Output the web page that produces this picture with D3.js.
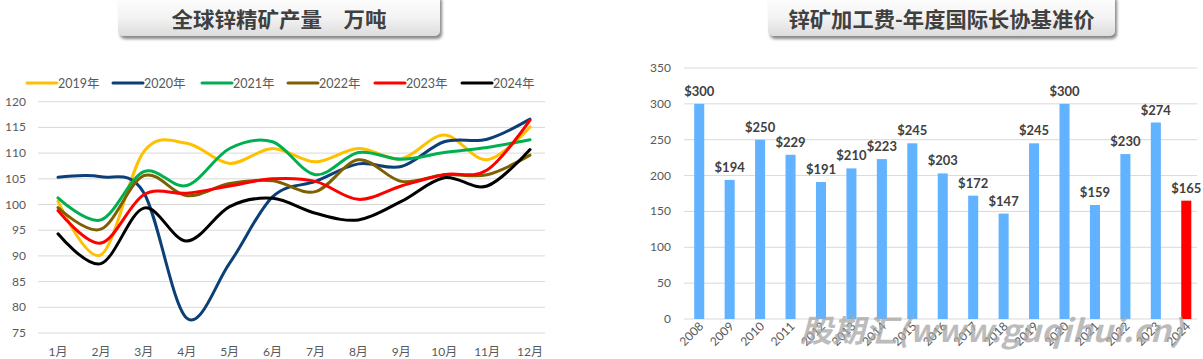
<!DOCTYPE html>
<html><head><meta charset="utf-8">
<script src="https://cdn.jsdelivr.net/npm/d3@7"></script>
<style>
body{margin:0;background:#fff;}
svg{display:block;font-family:"Lato","Noto Sans","Noto Sans CJK SC",sans-serif;}
</style></head><body>
<svg id="c" width="1203" height="359"></svg>
<script>
// ---------- data ----------
const months = ["1月","2月","3月","4月","5月","6月","7月","8月","9月","10月","11月","12月"];
const seriesNames = ["2019年","2020年","2021年","2022年","2023年","2024年"];
const s2019 = [100.6, 90.2, 110.3, 111.9, 108.0, 110.9, 108.3, 110.9, 108.9, 113.5, 108.7, 115.1];
const s2020 = [105.3, 105.4, 102.3, 77.9, 88.6, 101.5, 104.5, 107.9, 107.4, 112.2, 112.7, 116.6];
const s2021 = [101.3, 97.0, 106.4, 103.7, 110.9, 112.2, 105.8, 110.1, 108.8, 110.1, 111.1, 112.6];
const s2022 = [99.4, 95.2, 105.6, 101.7, 104.1, 104.6, 102.5, 108.7, 104.5, 105.8, 105.8, 109.6];
const s2023 = [98.8, 92.5, 101.9, 102.2, 103.6, 105.0, 104.5, 101.0, 103.6, 105.8, 106.7, 116.4];
const s2024 = [94.3, 88.5, 99.3, 92.9, 99.6, 101.2, 98.3, 97.0, 100.6, 105.2, 103.6, 110.7];
const leftTicks = [75,80,85,90,95,100,105,110,115,120];

const years = ["2008","2009","2010","2011","2012","2013","2014","2015","2016","2017","2018","2019","2020","2021","2022","2023","2024"];
const tcValues = [300,194,250,229,191,210,223,245,203,172,147,245,300,159,230,274,165];
const rightTicks = [0,50,100,150,200,250,300,350];

const titleLeft = "全球锌精矿产量\u3000万吨";
const titleRight = "锌矿加工费-年度国际长协基准价";
const watermark = "股期汇(www.guqihui.cn)";

// ---------- setup ----------
const svg = d3.select("#c");
const defs = svg.append("defs");
const grad = defs.append("linearGradient").attr("id","tg").attr("x1",0).attr("y1",0).attr("x2",0).attr("y2",1);
grad.append("stop").attr("offset","0%").attr("stop-color","#ffffff");
grad.append("stop").attr("offset","55%").attr("stop-color","#f4f4f4");
grad.append("stop").attr("offset","100%").attr("stop-color","#dcdcdc");
const flt = defs.append("filter").attr("id","sh").attr("x","-10%").attr("y","-30%").attr("width","130%").attr("height","180%");
flt.append("feDropShadow").attr("dx",2).attr("dy",3).attr("stdDeviation",1.6).attr("flood-color","#7a7a7a").attr("flood-opacity",0.9);

function titleBox(x0,x1,text,len){
  svg.append("rect").attr("x",x0).attr("y",-6).attr("width",x1-x0).attr("height",42)
    .attr("rx",5).attr("fill","url(#tg)").attr("filter","url(#sh)");
  svg.append("text").attr("x",(x0+x1)/2).attr("y",26.5).attr("text-anchor","middle")
    .attr("font-family","'Noto Sans CJK SC',sans-serif").attr("font-weight","bold")
    .attr("font-size",21).attr("fill","#404040")
    .attr("textLength",len).attr("lengthAdjust","spacingAndGlyphs").text(text);
}
titleBox(118,440,titleLeft,215);
titleBox(768,1115,titleRight,306);

// ---------- left line chart ----------
const x = d3.scalePoint().domain(months).range([58,530]);
const y = d3.scaleLinear().domain([75,120]).range([333,101.7]);
const gL = svg.append("g");
gL.selectAll("line.grid").data(leftTicks).join("line")
  .attr("x1",38).attr("x2",545).attr("y1",d=>y(d)).attr("y2",d=>y(d))
  .attr("stroke","#d9d9d9").attr("stroke-width",1);
gL.selectAll("text.yl").data(leftTicks).join("text")
  .attr("x",26).attr("y",d=>y(d)+4).attr("text-anchor","end")
  .attr("font-size",12).attr("fill","#595959").text(d=>d);
gL.selectAll("text.xl").data(months).join("text")
  .attr("x",d=>x(d)).attr("y",356).attr("text-anchor","middle")
  .attr("font-size",12).attr("fill","#595959").text(d=>d);

const colors = ["#FFC000","#0B3F76","#00B050","#7F6000","#FF0000","#000000"];
const allSeries = [s2019,s2020,s2021,s2022,s2023,s2024];
const line = d3.line().x((d,i)=>x(months[i])).y(d=>y(d)).curve(d3.curveCardinal.tension(0));
allSeries.forEach((s,k)=>{
  gL.append("path").attr("d",line(s)).attr("fill","none")
    .attr("stroke",colors[k]).attr("stroke-width",3).attr("stroke-linecap","round");
});
// legend
const legX = [27,113,202,288,375,462];
seriesNames.forEach((n,k)=>{
  gL.append("line").attr("x1",legX[k]).attr("x2",legX[k]+30).attr("y1",83).attr("y2",83)
    .attr("stroke",colors[k]).attr("stroke-width",3).attr("stroke-linecap","round");
  gL.append("text").attr("x",legX[k]+31).attr("y",87.5).attr("font-size",12.5)
    .attr("fill","#595959").text(n);
});

// ---------- right bar chart ----------
const xb = d3.scaleBand().domain(years).range([684,1201.5]).paddingInner(0.67).paddingOuter(0.335);
const yb = d3.scaleLinear().domain([0,350]).range([319,68]);
const gR = svg.append("g");
gR.selectAll("line.grid").data(rightTicks).join("line")
  .attr("x1",684).attr("x2",1197).attr("y1",d=>yb(d)).attr("y2",d=>yb(d))
  .attr("stroke","#d9d9d9").attr("stroke-width",1);
gR.selectAll("text.yl").data(rightTicks).join("text")
  .attr("x",671).attr("y",d=>yb(d)+4).attr("text-anchor","end")
  .attr("font-size",12).attr("fill","#595959").text(d=>d);
gR.selectAll("rect.bar").data(tcValues).join("rect")
  .attr("x",(d,i)=>xb(years[i])).attr("width",xb.bandwidth())
  .attr("y",d=>yb(d)).attr("height",d=>yb(0)-yb(d))
  .attr("fill",(d,i)=>i===years.length-1?"#FF0000":"#61B3FF");
gR.selectAll("text.lab").data(tcValues).join("text")
  .attr("x",(d,i)=>xb(years[i])+xb.bandwidth()/2).attr("y",d=>yb(d)-8)
  .attr("text-anchor","middle").attr("font-size",13).attr("font-weight","bold")
  .attr("fill","#404040").text(d=>"$"+d);
gR.selectAll("text.xl").data(years).join("text")
  .attr("transform",d=>`translate(${xb(d)+xb.bandwidth()/2+5},${327}) rotate(-45)`)
  .attr("text-anchor","end").attr("font-size",12).attr("fill","#595959").text(d=>d);

// watermark
svg.append("text").attr("x",800).attr("y",342).attr("font-size",31).attr("font-weight","bold")
  .attr("font-style","italic").attr("font-family","'Noto Sans CJK SC','DejaVu Sans',sans-serif")
  .attr("fill","#a6a6a6").attr("fill-opacity",0.75).attr("textLength",383).attr("lengthAdjust","spacingAndGlyphs")
  .text(watermark);
</script></body></html>
